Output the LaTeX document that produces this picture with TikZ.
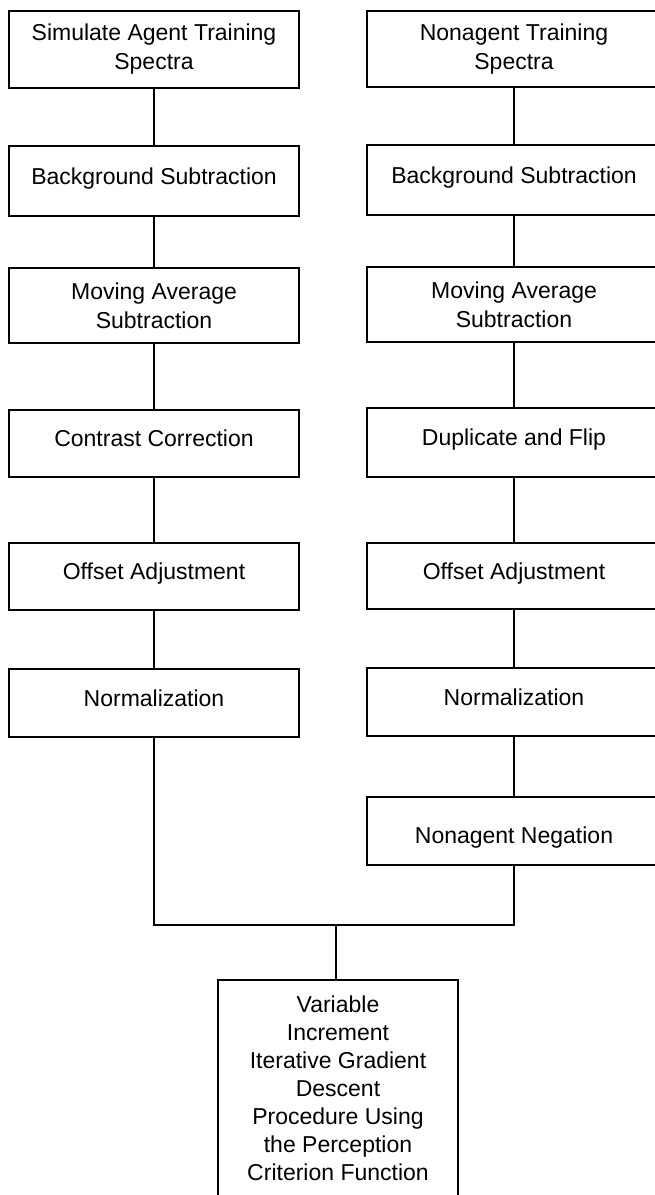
\documentclass[tikz,border=0pt]{standalone}
\usepackage{fontspec}
\setmainfont{Liberation Sans}
\begin{document}
\begin{tikzpicture}[x=1pt,y=1pt,
  box/.style={draw, line width=1.7pt, inner sep=2pt,
    font=\fontsize{23}{29}\selectfont},
  twoline/.style={align=center},
  oneline/.style={text height=17pt, text depth=10.6pt},
  lbox/.style={box, minimum width=290pt},
  rbox/.style={box, minimum width=294pt},
  link/.style={line width=1.5pt}]
\path[use as bounding box, fill=white] (0,0) rectangle (655,-1195);
\begin{scope}
\clip (0,0) rectangle (655,-1195);

% left branch: simulated agent spectra
\node[lbox, twoline, minimum height=77pt] (L1) at (154,-49.5) {Simulate Agent Training\\Spectra};
\node[lbox, oneline, minimum height=70pt] (L2) at (154,-181) {Background Subtraction};
\node[lbox, twoline, minimum height=75pt] (L3) at (154,-305.5) {Moving Average\\Subtraction};
\node[lbox, oneline, minimum height=67pt] (L4) at (154,-443.5) {Contrast Correction};
\node[lbox, oneline, minimum height=67pt] (L5) at (154,-576.5) {Offset Adjustment};
\node[lbox, oneline, minimum height=68pt] (L6) at (154,-703) {Normalization};

% right branch: nonagent spectra
\node[rbox, twoline, minimum height=76pt] (R1) at (514,-49) {Nonagent Training\\Spectra};
\node[rbox, oneline, minimum height=70pt] (R2) at (514,-180) {Background Subtraction};
\node[rbox, twoline, minimum height=75pt] (R3) at (514,-304.5) {Moving Average\\Subtraction};
\node[rbox, oneline, minimum height=69pt] (R4) at (514,-442.5) {Duplicate and Flip};
\node[rbox, oneline, minimum height=66pt] (R5) at (514,-576) {Offset Adjustment};
\node[rbox, oneline, minimum height=68pt] (R6) at (514,-702) {Normalization};
\node[rbox, minimum height=68pt, text height=29.4pt, text depth=5pt] (R7) at (514,-831) {Nonagent Negation};

% training procedure
\node[box, align=center, minimum width=240pt, inner ysep=16pt, anchor=north,
  font=\fontsize{23}{28}\selectfont] (P) at (338,-979)
  {Variable\\Increment\\Iterative Gradient\\Descent\\Procedure Using\\the Perception\\Criterion Function\rule[-12pt]{0pt}{0pt}};

% connectors
\draw[link] (L1) -- (L2);
\draw[link] (L2) -- (L3);
\draw[link] (L3) -- (L4);
\draw[link] (L4) -- (L5);
\draw[link] (L5) -- (L6);
\draw[link] (R1) -- (R2);
\draw[link] (R2) -- (R3);
\draw[link] (R3) -- (R4);
\draw[link] (R4) -- (R5);
\draw[link] (R5) -- (R6);
\draw[link] (R6) -- (R7);

\coordinate (J) at (336,-925);
\draw[link] (L6.south) |- (J) -| (R7.south);
\draw[link] (J) -- (J |- P.north);
\end{scope}
\end{tikzpicture}
\end{document}
